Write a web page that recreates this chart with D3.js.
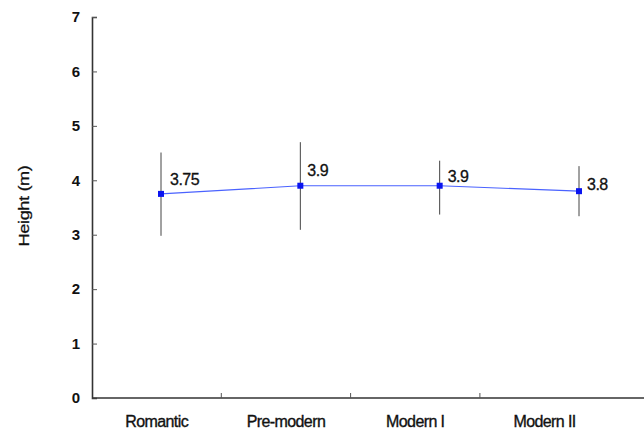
<!DOCTYPE html>
<html>
<head>
<meta charset="utf-8">
<script src="https://cdn.jsdelivr.net/npm/d3@7/dist/d3.min.js"></script>
<style>
  html, body { margin: 0; padding: 0; background: #fff; }
  svg { display: block; }
  text { font-family: "Liberation Sans", Arial, sans-serif; }
</style>
</head>
<body>
<svg id="chart" width="644" height="431"></svg>
<script>
// Mean tree height per period, with the range shown as a vertical bar
const categories = ["Romantic", "Pre-modern", "Modern I", "Modern II"];
const heights = [3.75, 3.9, 3.9, 3.8];
const rangeHigh = [4.51, 4.70, 4.36, 4.26];
const rangeLow = [2.98, 3.09, 3.37, 3.34];
const valueLabels = ["3.75", "3.9", "3.9", "3.8"];
const yTicks = [0, 1, 2, 3, 4, 5, 6, 7];

// label nudges (px) relative to each marker
const labelDx = [9, 7, 8, 8];
const labelDy = [-9, -10, -4, -1];

const svg = d3.select("#chart");
const plotLeft = 92, plotTop = 17, plotBottom = 398;

const y = d3.scaleLinear().domain([0, 7]).range([plotBottom, plotTop]);
const xBand = d3.scaleBand().domain(categories).range([plotLeft, plotLeft + 4 * 129.3]);
const xPt = d3.scalePoint().domain(categories).range([161, 579]);

// y axis with inward ticks
const yAxis = d3.axisLeft(y).tickValues(yTicks).tickSize(-5).tickPadding(12).tickFormat(d3.format("d"));
const gy = svg.append("g").attr("transform", `translate(${plotLeft},0)`).call(yAxis);
gy.attr("font-family", null).attr("font-size", null);
gy.select(".domain").attr("stroke", "#333").attr("stroke-width", 1.6);
gy.selectAll(".tick line").attr("stroke", "#555").attr("stroke-width", 1);
gy.selectAll(".tick text").attr("font-size", 15).attr("font-weight", "bold").attr("fill", "#111");

// x axis line spanning to the right edge
svg.append("line")
  .attr("x1", plotLeft).attr("x2", 644).attr("y1", plotBottom).attr("y2", plotBottom)
  .attr("stroke", "#333").attr("stroke-width", 1.6);
// category separators
svg.selectAll(".sep").data(categories.slice(1)).enter().append("line")
  .attr("x1", d => xBand(d)).attr("x2", d => xBand(d))
  .attr("y1", plotBottom).attr("y2", plotBottom - 5)
  .attr("stroke", "#555").attr("stroke-width", 1);
// category labels
svg.selectAll(".cat").data(categories).enter().append("text")
  .attr("x", d => xBand(d) + xBand.bandwidth() / 2)
  .attr("y", 427)
  .attr("text-anchor", "middle")
  .attr("font-size", 16)
  .attr("letter-spacing", "-0.6")
  .attr("fill", "#111")
  .attr("stroke", "#111").attr("stroke-width", 0.35)
  .text(d => d);

// y axis title, drawn slightly elongated
svg.append("text")
  .attr("transform", "translate(24,206) rotate(-90) scale(1.3,1)")
  .attr("text-anchor", "middle")
  .attr("dy", "0.35em")
  .attr("font-size", 14)
  .attr("letter-spacing", "-0.3")
  .attr("fill", "#111")
  .attr("stroke", "#111").attr("stroke-width", 0.25)
  .text("Height (m)");

// range bars
svg.selectAll(".rng").data(categories).enter().append("line")
  .attr("x1", d => xPt(d)).attr("x2", d => xPt(d))
  .attr("y1", (d, i) => y(rangeHigh[i])).attr("y2", (d, i) => y(rangeLow[i]))
  .attr("stroke", "#444").attr("stroke-width", 1);

// mean line
const line = d3.line().x((d, i) => xPt(categories[i])).y(d => y(d));
svg.append("path").datum(heights)
  .attr("d", line).attr("fill", "none")
  .attr("stroke", "#4a62ff").attr("stroke-width", 1.1);

// markers
svg.selectAll(".pt").data(heights).enter().append("rect")
  .attr("x", (d, i) => xPt(categories[i]) - 3)
  .attr("y", d => y(d) - 3)
  .attr("width", 6).attr("height", 6)
  .attr("fill", "#0a14f0");

// value labels
svg.selectAll(".val").data(heights).enter().append("text")
  .attr("x", (d, i) => xPt(categories[i]) + labelDx[i])
  .attr("y", (d, i) => y(d) + labelDy[i])
  .attr("font-size", 16)
  .attr("letter-spacing", "-0.5")
  .attr("fill", "#111")
  .attr("stroke", "#111").attr("stroke-width", 0.3)
  .text((d, i) => valueLabels[i]);
</script>
</body>
</html>
